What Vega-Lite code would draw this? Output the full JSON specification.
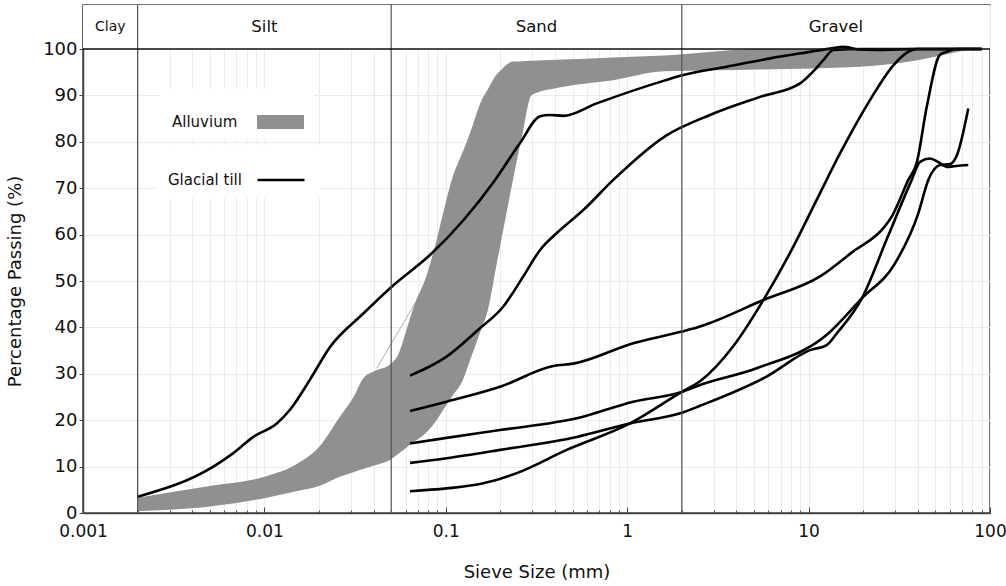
{
  "$schema": "https://vega.github.io/schema/vega-lite/v6.json",
  "width": 907,
  "height": 508,
  "autosize": "none",
  "padding": {"left": 83, "top": 5, "right": 16, "bottom": 73},
  "background": "white",
  "config": {
    "font": "DejaVu Sans",
    "view": {"stroke": "#444", "strokeWidth": 1.5}
  },
  "datasets": {
    "band": [
      {"x": 0.002, "lo": 0.4, "hi": 3.3},
      {"x": 0.005, "lo": 1.4, "hi": 5.8},
      {"x": 0.01, "lo": 3.2, "hi": 7.8},
      {"x": 0.015, "lo": 4.7, "hi": 10.5},
      {"x": 0.02, "lo": 5.8, "hi": 14.2},
      {"x": 0.026, "lo": 7.8, "hi": 20.7},
      {"x": 0.031, "lo": 8.8, "hi": 25},
      {"x": 0.035, "lo": 9.5, "hi": 29},
      {"x": 0.04, "lo": 10.2, "hi": 30.5},
      {"x": 0.0492, "lo": 11.4, "hi": 32},
      {"x": 0.055, "lo": 12.8, "hi": 34.4},
      {"x": 0.0615, "lo": 14.3, "hi": 40.2},
      {"x": 0.0676, "lo": 15.5, "hi": 45.2},
      {"x": 0.0768, "lo": 17.1, "hi": 50.2},
      {"x": 0.0871, "lo": 19.5, "hi": 57.4},
      {"x": 0.0966, "lo": 22.2, "hi": 64.6},
      {"x": 0.1078, "lo": 25.0, "hi": 71.8},
      {"x": 0.1244, "lo": 28.7, "hi": 78.0},
      {"x": 0.136, "lo": 32.9, "hi": 81.9},
      {"x": 0.158, "lo": 40.0, "hi": 89.1},
      {"x": 0.1687, "lo": 43.0, "hi": 91.0},
      {"x": 0.191, "lo": 53.8, "hi": 94.6},
      {"x": 0.199, "lo": 57.4, "hi": 95.3},
      {"x": 0.2346, "lo": 71.8, "hi": 97.3},
      {"x": 0.2654, "lo": 81.9, "hi": 97.4},
      {"x": 0.2976, "lo": 90.1, "hi": 97.5},
      {"x": 0.408, "lo": 91.6, "hi": 97.7},
      {"x": 0.835, "lo": 93.3, "hi": 98.2},
      {"x": 1.6, "lo": 95.2, "hi": 98.6},
      {"x": 5.4, "lo": 95.6, "hi": 100},
      {"x": 19.2, "lo": 96.2, "hi": 100},
      {"x": 31.9, "lo": 97.0, "hi": 100},
      {"x": 77.6, "lo": 100, "hi": 100}
    ],
    "till": [
      {"id": "A", "x": 0.002, "y": 3.5}, {"id": "A", "x": 0.00523, "y": 10.0}, {"id": "A", "x": 0.00674, "y": 12.9},
      {"id": "A", "x": 0.00868, "y": 16.4}, {"id": "A", "x": 0.0117, "y": 19.3}, {"id": "A", "x": 0.0138, "y": 22.2},
      {"id": "A", "x": 0.0178, "y": 28.7}, {"id": "A", "x": 0.023, "y": 35.8}, {"id": "A", "x": 0.0351, "y": 43.0},
      {"id": "A", "x": 0.0514, "y": 49.1}, {"id": "A", "x": 0.0818, "y": 55.6}, {"id": "A", "x": 0.125, "y": 63.1},
      {"id": "A", "x": 0.187, "y": 71.8}, {"id": "A", "x": 0.256, "y": 79.7}, {"id": "A", "x": 0.331, "y": 85.5},
      {"id": "A", "x": 0.375, "y": 85.8}, {"id": "A", "x": 0.444, "y": 85.6}, {"id": "A", "x": 0.679, "y": 88.3},
      {"id": "A", "x": 1.6, "y": 93.2}, {"id": "A", "x": 2.04, "y": 94.4}, {"id": "A", "x": 3.54, "y": 96.2},
      {"id": "A", "x": 6.13, "y": 98.0}, {"id": "A", "x": 10.18, "y": 99.4}, {"id": "A", "x": 13.69, "y": 100.2},
      {"id": "A", "x": 15.47, "y": 100.5}, {"id": "A", "x": 19.2, "y": 99.9}, {"id": "A", "x": 23.7, "y": 99.8},
      {"id": "A", "x": 40, "y": 100}, {"id": "A", "x": 90, "y": 100},

      {"id": "B", "x": 0.0635, "y": 29.6}, {"id": "B", "x": 0.101, "y": 33.7}, {"id": "B", "x": 0.151, "y": 39.5},
      {"id": "B", "x": 0.2075, "y": 44.5}, {"id": "B", "x": 0.2675, "y": 51.0}, {"id": "B", "x": 0.331, "y": 56.7},
      {"id": "B", "x": 0.408, "y": 60.3}, {"id": "B", "x": 0.573, "y": 65.3}, {"id": "B", "x": 0.838, "y": 71.8},
      {"id": "B", "x": 1.63, "y": 81.3}, {"id": "B", "x": 2.86, "y": 85.8}, {"id": "B", "x": 5.4, "y": 89.7},
      {"id": "B", "x": 8.97, "y": 92.6}, {"id": "B", "x": 10.61, "y": 95.2}, {"id": "B", "x": 12.05, "y": 97.6},
      {"id": "B", "x": 13.69, "y": 99.8}, {"id": "B", "x": 20, "y": 100}, {"id": "B", "x": 90, "y": 100},

      {"id": "C", "x": 0.0635, "y": 22.0}, {"id": "C", "x": 0.101, "y": 24.0}, {"id": "C", "x": 0.199, "y": 27.2},
      {"id": "C", "x": 0.391, "y": 31.7}, {"id": "C", "x": 0.505, "y": 32.2}, {"id": "C", "x": 1.08, "y": 36.6},
      {"id": "C", "x": 2.0, "y": 39.1}, {"id": "C", "x": 2.52, "y": 40.2}, {"id": "C", "x": 5.63, "y": 45.9},
      {"id": "C", "x": 11.56, "y": 51.0}, {"id": "C", "x": 17.64, "y": 56.4}, {"id": "C", "x": 25.81, "y": 61.4},
      {"id": "C", "x": 28.72, "y": 63.9}, {"id": "C", "x": 35.46, "y": 71.8}, {"id": "C", "x": 39.45, "y": 75.5},
      {"id": "C", "x": 44.78, "y": 87.5}, {"id": "C", "x": 53.0, "y": 98.8}, {"id": "C", "x": 57.7, "y": 99.4},
      {"id": "C", "x": 65, "y": 100}, {"id": "C", "x": 90, "y": 100},

      {"id": "D", "x": 0.0635, "y": 15.0}, {"id": "D", "x": 0.101, "y": 16.2}, {"id": "D", "x": 0.199, "y": 17.9},
      {"id": "D", "x": 0.527, "y": 20.4}, {"id": "D", "x": 1.08, "y": 24.0}, {"id": "D", "x": 2.0, "y": 26.1},
      {"id": "D", "x": 2.52, "y": 27.6}, {"id": "D", "x": 5.17, "y": 31.2}, {"id": "D", "x": 12.59, "y": 38.4},
      {"id": "D", "x": 19.7, "y": 46.3}, {"id": "D", "x": 29.95, "y": 53.8}, {"id": "D", "x": 40.25, "y": 64.6},
      {"id": "D", "x": 45.7, "y": 71.8}, {"id": "D", "x": 53.0, "y": 75.0}, {"id": "D", "x": 60.2, "y": 75.2},
      {"id": "D", "x": 65.5, "y": 77.0}, {"id": "D", "x": 75.9, "y": 87.2},

      {"id": "E", "x": 0.0635, "y": 10.8}, {"id": "E", "x": 0.101, "y": 11.8}, {"id": "E", "x": 0.199, "y": 13.6},
      {"id": "E", "x": 0.527, "y": 16.4}, {"id": "E", "x": 1.036, "y": 19.3}, {"id": "E", "x": 2.0, "y": 21.6},
      {"id": "E", "x": 2.52, "y": 23.1}, {"id": "E", "x": 5.87, "y": 29.4}, {"id": "E", "x": 10.18, "y": 35.1},
      {"id": "E", "x": 12.59, "y": 36.2}, {"id": "E", "x": 14.29, "y": 38.7}, {"id": "E", "x": 19.7, "y": 46.3},
      {"id": "E", "x": 27.1, "y": 59.2}, {"id": "E", "x": 37.03, "y": 71.8}, {"id": "E", "x": 41.13, "y": 75.7},
      {"id": "E", "x": 46.69, "y": 76.4}, {"id": "E", "x": 52, "y": 75.6}, {"id": "E", "x": 57.7, "y": 74.6},
      {"id": "E", "x": 65, "y": 74.8}, {"id": "E", "x": 75.9, "y": 75.0},

      {"id": "F", "x": 0.0635, "y": 4.7}, {"id": "F", "x": 0.101, "y": 5.3}, {"id": "F", "x": 0.161, "y": 6.4},
      {"id": "F", "x": 0.246, "y": 8.6}, {"id": "F", "x": 0.464, "y": 13.6}, {"id": "F", "x": 1.036, "y": 19.3},
      {"id": "F", "x": 2.0, "y": 26.1}, {"id": "F", "x": 2.52, "y": 28.4}, {"id": "F", "x": 3.85, "y": 36.0},
      {"id": "F", "x": 5.63, "y": 45.9}, {"id": "F", "x": 8.236, "y": 57.4}, {"id": "F", "x": 11.08, "y": 67.5},
      {"id": "F", "x": 14.9, "y": 77.5}, {"id": "F", "x": 21.8, "y": 89.0}, {"id": "F", "x": 29.3, "y": 96.5},
      {"id": "F", "x": 34.7, "y": 99.2}, {"id": "F", "x": 40, "y": 100}, {"id": "F", "x": 90, "y": 100}
    ],
    "edge": [
      {"x": 0.0416, "y": 31.2},
      {"x": 0.0676, "y": 45.2}
    ],
    "classes": [
      {"name": "Clay", "from": 0.001, "to": 0.002},
      {"name": "Silt", "from": 0.002, "to": 0.05},
      {"name": "Sand", "from": 0.05, "to": 2},
      {"name": "Gravel", "from": 2, "to": 100}
    ]
  },
  "layer": [
    {
      "data": {"values": [{}]},
      "mark": {"type": "rect", "fill": "white"},
      "encoding": {
        "x": {
          "datum": 0.001,
          "type": "quantitative",
          "scale": {"type": "log", "domain": [0.001, 100], "nice": false},
          "axis": {
            "title": "Sieve Size (mm)",
            "titleFontSize": 18,
            "titleFontWeight": "normal",
            "titleColor": "#111",
            "titleY": 59,
            "titleBaseline": "middle",
            "values": [0.001, 0.002, 0.003, 0.004, 0.005, 0.006, 0.007, 0.008, 0.009,
                       0.01, 0.02, 0.03, 0.04, 0.05, 0.06, 0.07, 0.08, 0.09,
                       0.1, 0.2, 0.3, 0.4, 0.5, 0.6, 0.7, 0.8, 0.9,
                       1, 2, 3, 4, 5, 6, 7, 8, 9,
                       10, 20, 30, 40, 50, 60, 70, 80, 90, 100],
            "labelExpr": "abs(log(datum.value)/LN10 - round(log(datum.value)/LN10)) < 0.0001 ? format(datum.value, '~g') : ''",
            "labelFontSize": 17,
            "labelColor": "#111",
            "labelPadding": 16,
            "labelFlush": false,
            "labelOverlap": false,
            "grid": true,
            "gridColor": "#ebebeb",
            "gridWidth": 1,
            "tickColor": "#444",
            "tickSize": {"condition": {"test": "abs(log(datum.value)/LN10 - round(log(datum.value)/LN10)) < 0.0001", "value": -6}, "value": -3},
            "domainColor": "#444",
            "domainWidth": 1.5
          }
        },
        "x2": {"datum": 100},
        "y": {
          "datum": 100,
          "type": "quantitative",
          "scale": {"domain": [0, 109.5], "nice": false, "zero": true},
          "axis": {
            "title": "Percentage Passing (%)",
            "titleFontSize": 18,
            "titleFontWeight": "normal",
            "titleColor": "#111",
            "titleX": -68,
            "titleY": 276,
            "titleAlign": "center",
            "titleBaseline": "middle",
            "values": [0, 10, 20, 30, 40, 50, 60, 70, 80, 90, 100],
            "labelFontSize": 18,
            "labelColor": "#111",
            "labelPadding": 2,
            "grid": true,
            "gridColor": "#ebebeb",
            "gridWidth": 1,
            "tickColor": "#444",
            "tickSize": 4,
            "domainColor": "#444",
            "domainWidth": 1.5
          }
        },
        "y2": {"datum": 109.5}
      }
    },
    {
      "data": {"name": "band"},
      "mark": {"type": "area", "interpolate": "monotone", "opacity": 1},
      "encoding": {
        "x": {"field": "x", "type": "quantitative"},
        "y": {"field": "hi", "type": "quantitative"},
        "y2": {"field": "lo"},
        "fill": {
          "datum": "Alluvium",
          "type": "nominal",
          "scale": {"domain": ["Alluvium"], "range": ["#909090"]},
          "legend": {
            "orient": "none",
            "legendX": 77,
            "legendY": 83.5,
            "title": null,
            "fillColor": "white",
            "padding": 10,
            "symbolSize": 2209,
            "symbolStrokeWidth": 0,
            "symbolType": "M-1,-0.3H1V0.3H-1Z",
            "symbolOpacity": 1,
            "symbolOffset": 87,
            "labelOffset": -132,
            "labelAlign": "left",
            "labelFontSize": 15,
            "labelColor": "#111"
          }
        }
      }
    },
    {
      "data": {"name": "edge"},
      "mark": {"type": "line", "color": "#9a9a9a", "strokeWidth": 0.8},
      "encoding": {
        "x": {"field": "x", "type": "quantitative"},
        "y": {"field": "y", "type": "quantitative"}
      }
    },
    {
      "data": {"name": "till"},
      "mark": {"type": "line", "interpolate": "monotone", "strokeWidth": 2.6, "strokeJoin": "round", "strokeCap": "butt"},
      "encoding": {
        "x": {"field": "x", "type": "quantitative"},
        "y": {"field": "y", "type": "quantitative"},
        "detail": {"field": "id"},
        "stroke": {
          "datum": "Glacial till",
          "type": "nominal",
          "scale": {"domain": ["Glacial till"], "range": ["#000000"]},
          "legend": {
            "orient": "none",
            "legendX": 73,
            "legendY": 140,
            "title": null,
            "fillColor": "white",
            "padding": 10,
            "symbolSize": 2209,
            "symbolStrokeWidth": 2.5,
            "symbolType": "stroke",
            "symbolOffset": 90,
            "labelOffset": -138,
            "labelAlign": "left",
            "labelFontSize": 15,
            "labelColor": "#111"
          }
        }
      }
    },
    {
      "data": {"name": "classes"},
      "transform": [{"filter": "datum.from > 0.001"}],
      "mark": {"type": "rule", "color": "#555", "strokeWidth": 1.2},
      "encoding": {
        "x": {"field": "from", "type": "quantitative"}
      }
    },
    {
      "data": {"values": [{}]},
      "mark": {"type": "rule", "color": "#111", "strokeWidth": 1.5},
      "encoding": {
        "y": {"datum": 100, "type": "quantitative"}
      }
    },
    {
      "data": {"name": "classes"},
      "transform": [{"calculate": "sqrt(datum.from * datum.to)", "as": "mid"}],
      "mark": {"type": "text", "color": "#111", "baseline": "middle", "align": "center"},
      "encoding": {
        "x": {"field": "mid", "type": "quantitative"},
        "y": {"datum": 104.75, "type": "quantitative"},
        "text": {"field": "name"},
        "size": {"condition": {"test": "datum.name === 'Clay'", "value": 14}, "value": 16.5}
      }
    }
  ]
}
